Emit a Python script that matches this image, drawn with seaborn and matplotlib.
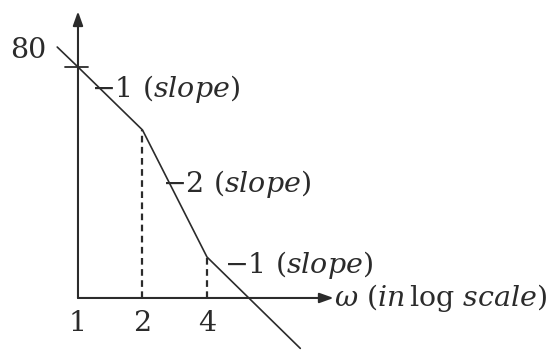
import numpy as np
import pandas as pd
import matplotlib
matplotlib.use("Agg")
import matplotlib.pyplot as plt
import seaborn as sns

# Asymptotic magnitude plot: corner points (omega, magnitude in dB)
omega = [0.80, 1.0, 2.0, 4.0, 10.9]
magnitude = [81.9, 80.0, 74.0, 61.9, 53.2]
corner_freqs = [2.0, 4.0]
corner_mags = [74.0, 61.9]
tick_freqs = [1, 2, 4]
tick_labels = ["1", "2", "4"]
slope_labels = [r"$-1\ (slope)$", r"$-2\ (slope)$", r"$-1\ (slope)$"]
axis_floor = 58.0

sns.set_theme(style="white")
plt.rcParams["mathtext.fontset"] = "dejavuserif"
plt.rcParams["font.family"] = ["DejaVu Serif"]

fig = plt.figure(figsize=(5.57, 3.53), dpi=100)
ax = fig.add_axes([0, 0, 1, 1])
ax.set_xscale("log", base=2)
ax.set_xlim(2 ** -1.209, 2 ** 7.426)
ax.set_ylim(52.76, 86.38)
ax.axis("off")

ink = "#2b2b2b"

df = pd.DataFrame({"omega": omega, "magnitude": magnitude})
sns.lineplot(data=df, x="omega", y="magnitude", sort=False, color=ink,
             linewidth=1.2, ax=ax)

# axes with arrow heads
ax.annotate("", xy=(1.0, 85.3), xytext=(1.0, axis_floor),
            arrowprops=dict(arrowstyle="-|>,head_length=0.7,head_width=0.25",
                            color=ink, lw=1.5, shrinkA=0, shrinkB=0))
ax.annotate("", xy=(15.6, axis_floor), xytext=(1.0, axis_floor),
            arrowprops=dict(arrowstyle="-|>,head_length=0.7,head_width=0.25",
                            color=ink, lw=1.5, shrinkA=0, shrinkB=0))

# tick at 80 dB on the vertical axis
ax.plot([0.87, 1.11], [80.0, 80.0], color=ink, lw=1.3)

# dashed drop lines at the corner frequencies
for f, m in zip(corner_freqs, corner_mags):
    ax.plot([f, f], [axis_floor, m], color=ink, lw=1.6,
            linestyle=(0, (3, 2)))

fs = 20.5
ax.text(2 ** (-32 / 64.5), 81.6, "80", fontsize=fs, ha="right", va="center",
        color=ink)
for f, lab in zip(tick_freqs, tick_labels):
    ax.text(f, 55.55, lab, fontsize=fs, ha="center", va="center", color=ink)

slope_pos = [(2 ** (13 / 64.5), 77.9), (2 ** (84 / 64.5), 68.9),
             (2 ** (146 / 64.5), 61.1)]
for (x, y), lab in zip(slope_pos, slope_labels):
    ax.text(x, y, lab, fontsize=fs, ha="left", va="center", color=ink)

ax.text(2 ** (256 / 64.5), 58.0, r"$\omega\ (in\,\log\,scale)$", fontsize=fs,
        ha="left", va="center", color=ink)

fig.savefig("out.png", dpi=100, facecolor="white")
